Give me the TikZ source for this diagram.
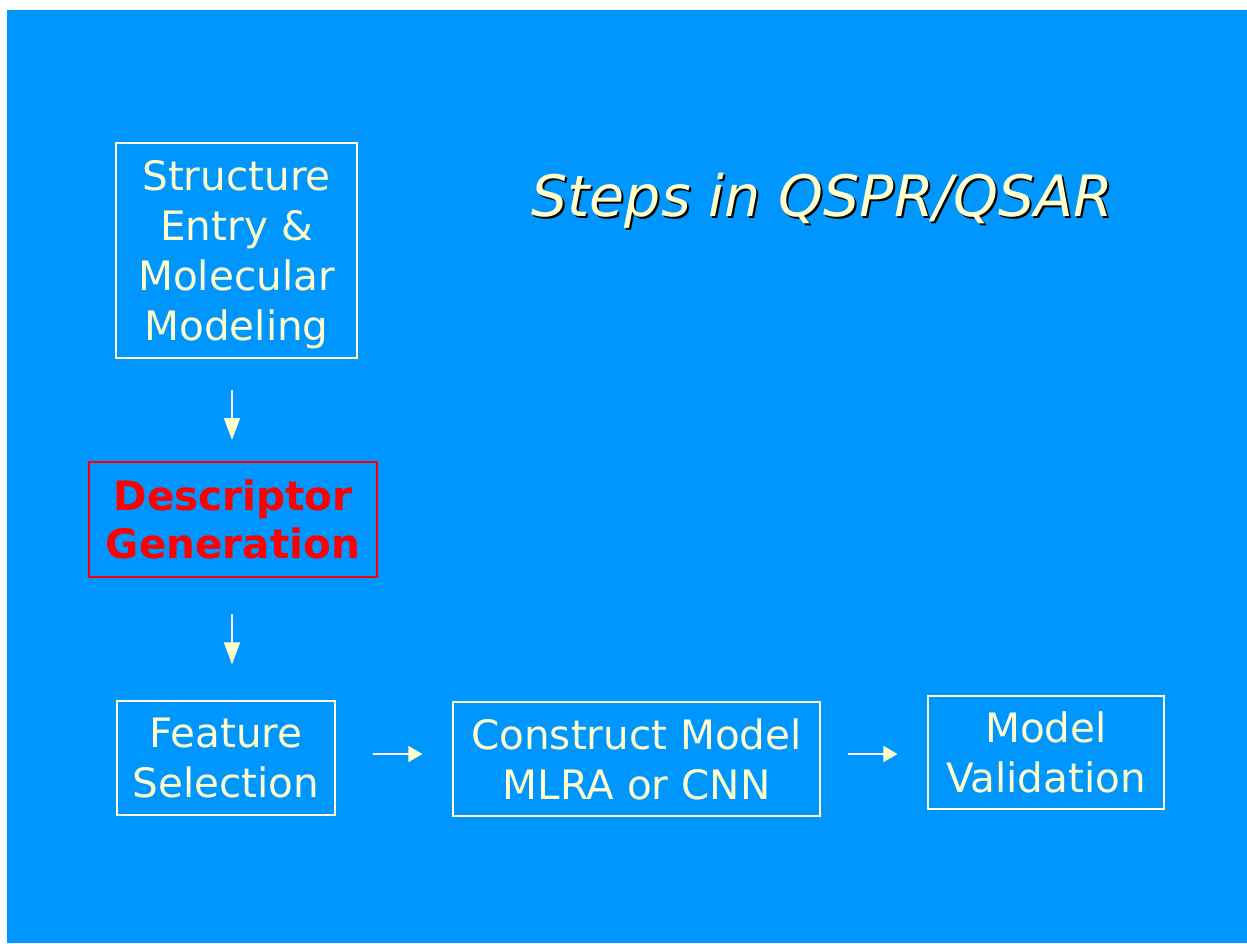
\documentclass[tikz,border=0pt]{standalone}
\usepackage{fontspec}
\setmainfont{DejaVu Sans}
\usetikzlibrary{arrows.meta}
\definecolor{slideblue}{HTML}{0096FF}
\definecolor{cream}{HTML}{FFFFCC}
\definecolor{hotred}{HTML}{FF0000}
\tikzset{
  boxtext/.style={inner sep=0pt, align=center, text=cream,
    font=\fontsize{40.5}{50}\selectfont},
  stepbox/.style={boxtext, draw=cream, line width=1.2pt},
  hotbox/.style={draw=hotred, line width=2pt, inner sep=0pt, align=center,
    text=hotred, font=\fontsize{40.5}{48}\selectfont\bfseries},
  flow/.style={draw=white, line width=1.5pt,
    -{Triangle[length=#1, width=16pt, color=cream]}},
  flow/.default=20pt
}
\begin{document}
\begin{tikzpicture}[x=1pt, y=-1pt]
  % page and slide background
  \fill[white] (0,0) rectangle (1247,943);
  \fill[slideblue] (7,10) rectangle (1247,943);
  \useasboundingbox (0,0) rectangle (1247,943);

  % title with drop shadow
  \node[text=black, font=\fontsize{57}{60}\selectfont\itshape] (titleshadow) at (824,203) {Steps in QSPR/QSAR};
  \node[text=cream, font=\fontsize{57}{60}\selectfont\itshape] (title) at (822,201) {Steps in QSPR/QSAR};

  % process steps
  \node[stepbox, minimum width=241pt, minimum height=215pt] (struct) at (236.5,250.5) {};
  \node[boxtext] (structtext) at ([yshift=-4pt]struct.center)
    {Structure\\Entry \&\\Molecular\\Modeling};
  \node[hotbox, minimum width=288pt, minimum height=115pt] (desc) at (233,519.5)
    {Descriptor\\Generation};
  \node[stepbox, minimum width=218pt, minimum height=114pt] (feat) at (226,758)
    {Feature\\Selection};
  \node[stepbox, minimum width=367pt, minimum height=114pt] (cons) at (636.5,759)
    {Construct Model\\MLRA or CNN};
  \node[stepbox, minimum width=236pt, minimum height=113pt] (valid) at (1046,752.5)
    {Model\\Validation};

  % connectors
  \draw[flow=22pt, shorten <=31pt, shorten >=21pt]
    ([xshift=-4.5pt]struct.south) -- ([xshift=-1pt]desc.north);
  \draw[flow=22pt, shorten <=36pt, shorten >=36pt]
    ([xshift=-1pt]desc.south) -- ([xshift=-1pt]desc.south |- feat.north);
  \draw[flow=14pt, shorten <=37pt, shorten >=30pt]
    ([yshift=4pt]feat.east) -- ([yshift=4pt]feat.east -| cons.west);
  \draw[flow=14pt, shorten <=27pt, shorten >=30pt]
    ([yshift=5pt]cons.east) -- ([yshift=5pt]cons.east -| valid.west);
\end{tikzpicture}
\end{document}
